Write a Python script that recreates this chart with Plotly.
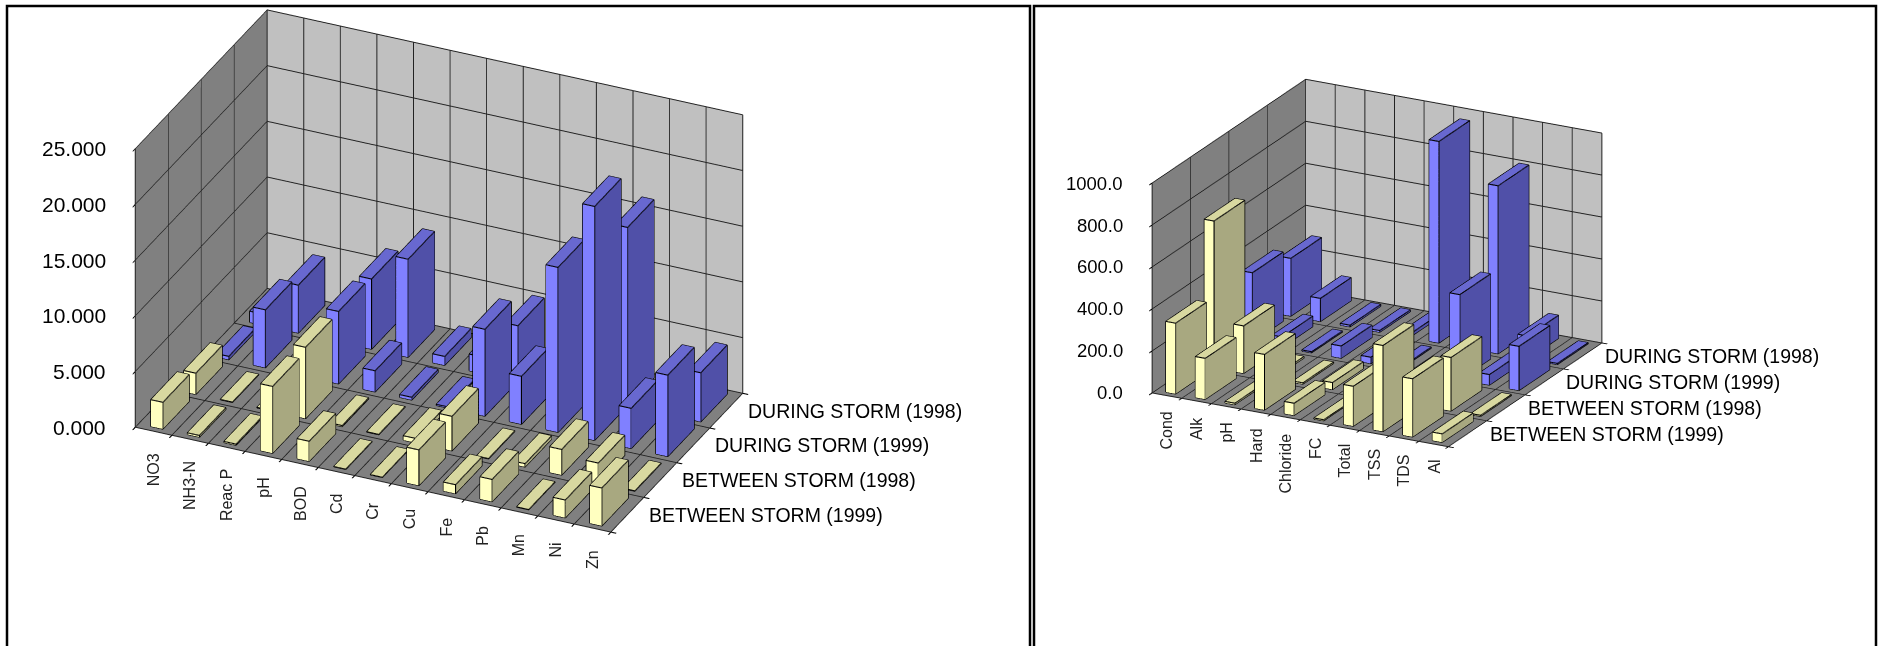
import math
import plotly.graph_objects as go

FIG_W, FIG_H = 1883, 646

series_names = ["BETWEEN STORM (1999)", "BETWEEN STORM (1998)", "DURING STORM (1999)", "DURING STORM (1998)"]

left_categories = ["NO3", "NH3-N", "Reac P", "pH", "BOD", "Cd", "Cr", "Cu", "Fe", "Pb", "Mn", "Ni", "Zn"]
left_between_1999 = [2.4, 0.15, 0.1, 6.0, 1.8, 0.02, 0.02, 3.2, 0.8, 2.0, 0.02, 1.6, 3.4]
left_between_1998 = [1.9, 0.03, 0.05, 6.4, 0.1, 0.03, 0.4, 3.1, 0.03, 0.3, 2.3, 1.8, 0.03]
left_during_1999 = [0.3, 5.2, 0.1, 6.5, 1.9, 0.25, 0.1, 7.8, 4.3, 14.8, 21.0, 3.6, 7.3]
left_during_1998 = [1.0, 4.3, 1.0, 6.3, 8.8, 0.8, 1.5, 5.0, 2.0, 11.5, 16.0, 2.2, 4.4]
left_ticks = [0, 5, 10, 15, 20, 25]

right_categories = ["Cond", "Alk", "pH", "Hard", "Chloride", "FC", "Total", "TSS", "TDS", "Al"]
right_between_1999 = [337, 195, 7, 265, 58, 5, 190, 410, 277, 40]
right_between_1998 = [700, 226, 7, 6, 33, 6, 5, 10, 255, 5]
right_during_1999 = [330, 50, 5, 58, 30, 5, 10, 405, 50, 210]
right_during_1998 = [275, 110, 8, 8, 15, 960, 100, 800, 110, 5]
right_ticks = [0, 200, 400, 600, 800, 1000]

YELLOW = ("#FFFFC0", "#A8A880", "#D8D8A0")
BLUE = ("#8080FF", "#5050A8", "#6868D0")
series_colors = [YELLOW, YELLOW, BLUE, BLUE]
BAR_W, BAR_D = 0.33, 0.8


def bars(values, row, colors, scene):
    xs, ys, zs, i, j, k, fc = [], [], [], [], [], [], []
    ex, ey, ez = [], [], []
    for c, v in enumerate(values):
        x0, x1 = c + 0.5 - BAR_W / 2, c + 0.5 + BAR_W / 2
        y0, y1 = row + 0.5 - BAR_D / 2, row + 0.5 + BAR_D / 2
        n = len(xs)
        xs += [x0, x1, x1, x0, x0, x1, x1, x0]
        ys += [y0, y0, y1, y1, y0, y0, y1, y1]
        zs += [0, 0, 0, 0, v, v, v, v]
        quads = [((0, 1, 5, 4), colors[0]), ((1, 2, 6, 5), colors[1]), ((4, 5, 6, 7), colors[2])]
        for q, col in quads:
            i += [n + q[0], n + q[0]]
            j += [n + q[1], n + q[2]]
            k += [n + q[2], n + q[3]]
            fc += [col, col]
        for path in ([0, 1, 5, 4, 0], [1, 2, 6, 5], [4, 7, 6]):
            for p in path:
                ex.append(xs[n + p]); ey.append(ys[n + p]); ez.append(zs[n + p])
            ex.append(None); ey.append(None); ez.append(None)
    mesh = go.Mesh3d(x=xs, y=ys, z=zs, i=i, j=j, k=k, facecolor=fc, flatshading=True, scene=scene,
                     lighting=dict(ambient=1, diffuse=0, specular=0, fresnel=0, roughness=1),
                     hoverinfo="skip", showscale=False)
    edge = go.Scatter3d(x=ex, y=ey, z=ez, mode="lines", line=dict(color="#000000", width=2.2),
                        scene=scene, hoverinfo="skip", showlegend=False)
    return [mesh, edge]


def make_scene(cats, ticks, fmt, center, H, width, phi, elev, L, unit, tick_size, cat_shift, xs=20):
    a, b = math.radians(phi), math.radians(elev)
    D = 2.0
    eye = dict(x=D * math.sin(a) * math.cos(b), y=-D * math.cos(a) * math.cos(b), z=D * math.sin(b))
    dom_x = [(center[0] - width / 2) / FIG_W, (center[0] + width / 2) / FIG_W]
    dom_y = [1 - (center[1] + H / 2) / FIG_H, 1 - (center[1] - H / 2) / FIG_H]
    ax = dict(title="", showticklabels=False, showspikes=False, showbackground=True, showgrid=True,
              gridcolor="#222222", gridwidth=2, zeroline=False, showline=True, linecolor="#222222",
              linewidth=2, ticks="outside", ticklen=6, tickcolor="#000000", tickwidth=2.5)
    n = len(cats)
    notes = []
    for c, name in enumerate(cats):
        notes.append(dict(x=c + 0.5, y=0, z=0, text=name, textangle=-90, showarrow=False, yanchor="top",
                          xanchor="center", yshift=cat_shift, font=dict(size=16, color="#222222")))
    for r, name in enumerate(series_names):
        notes.append(dict(x=n, y=r + 0.5, z=0, text=name, showarrow=False, xanchor="left", yanchor="middle",
                          xshift=xs, font=dict(size=19.5, color="#000000")))
    for t in ticks:
        notes.append(dict(x=0, y=0, z=t, text=format(t, fmt), showarrow=False, xanchor="right", yanchor="middle",
                          xshift=-27, font=dict(size=tick_size, color="#000000")))
    return dict(
        domain=dict(x=dom_x, y=dom_y),
        aspectmode="manual",
        aspectratio=dict(x=L[0] / unit, y=L[1] / unit, z=L[2] / unit),
        camera=dict(eye=eye, center=dict(x=0, y=0, z=0), up=dict(x=0, y=0, z=1),
                    projection=dict(type="orthographic")),
        xaxis=dict(ax, range=[0, n], tickvals=list(range(n + 1)), backgroundcolor="#808080"),
        yaxis=dict(ax, range=[0, 4], tickvals=[0, 1, 2, 3, 4], backgroundcolor="#C0C0C0"),
        zaxis=dict(ax, range=[0, ticks[-1]], tickvals=ticks, backgroundcolor="#808080"),
        annotations=notes,
    )


fig = go.Figure()
left_rows = [left_between_1999, left_between_1998, left_during_1999, left_during_1998]
right_rows = [right_between_1999, right_between_1998, right_during_1999, right_during_1998]
for r in range(4):
    fig.add_traces(bars(left_rows[r], r, series_colors[r], "scene"))
    fig.add_traces(bars(right_rows[r], r, series_colors[r], "scene2"))

frames = [(7, 1030), (1034, 1876)]
shapes = []
for x0, x1 in frames:
    shapes.append(dict(type="path", xref="paper", yref="paper",
                       path=f"M {x0/FIG_W} 0 L {x0/FIG_W} {1-6/FIG_H} L {x1/FIG_W} {1-6/FIG_H} L {x1/FIG_W} 0",
                       line=dict(color="#000000", width=2.5)))

fig.update_layout(
    width=FIG_W, height=FIG_H, margin=dict(l=0, r=0, t=0, b=0, pad=0), autosize=False,
    paper_bgcolor="#FFFFFF", showlegend=False, shapes=shapes,
    font=dict(family="Liberation Sans, Arial, sans-serif"),
    scene=make_scene(left_categories, left_ticks, ".3f", (439, 271), 538, 860, 24.6, 28.8, (525, 318, 319), 270, 21, -20),
    scene2=make_scene(right_categories, right_ticks, ".1f", (1377, 263), 500, 990, 27.4, 20.5, (335, 335, 225), 251, 18.5, -14),
)
fig.write_html("out.html", config=dict(displayModeBar=False),
               post_script="document.body.style.margin='0';document.documentElement.style.overflow='hidden';")
